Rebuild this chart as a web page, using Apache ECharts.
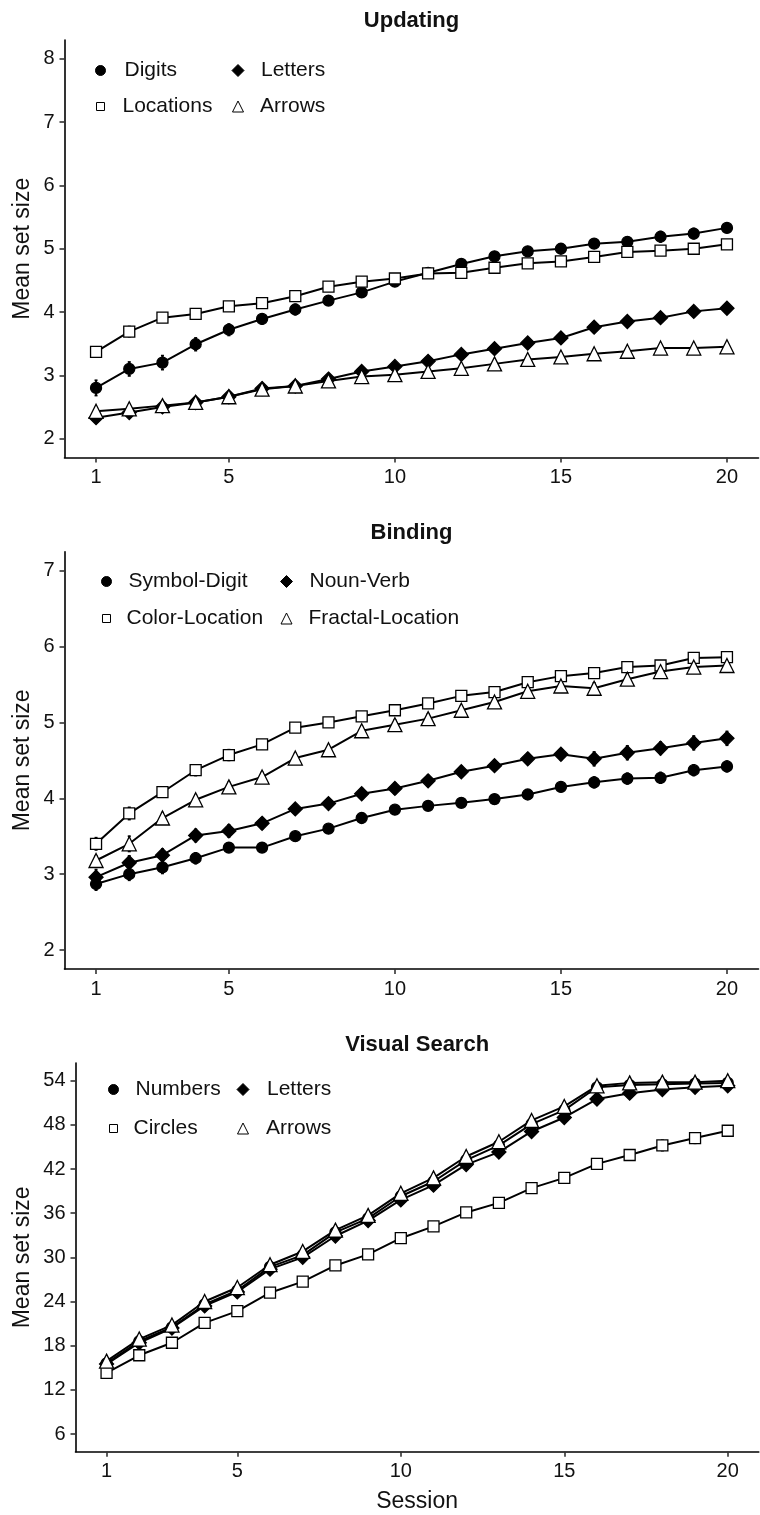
<!DOCTYPE html>
<html>
<head>
<meta charset="utf-8">
<script src="https://cdn.jsdelivr.net/npm/echarts@6/dist/echarts.min.js"></script>
<style>
  html, body { margin: 0; padding: 0; background: #fff; }
  #chart { width: 760px; height: 1515px; }
</style>
</head>
<body>
<div id="chart"></div>
<script>
// Training sessions on the x axis
const sessions = [1,2,3,4,5,6,7,8,9,10,11,12,13,14,15,16,17,18,19,20];
const xTicks = [1, 5, 10, 15, 20];

// Updating task: mean set size per session, with standard errors
const updDigits    = [2.80,3.10,3.20,3.49,3.72,3.89,4.04,4.18,4.31,4.48,4.62,4.76,4.88,4.96,5.00,5.08,5.11,5.19,5.24,5.33];
const updLetters   = [2.33,2.41,2.50,2.57,2.66,2.79,2.83,2.94,3.06,3.14,3.22,3.33,3.42,3.51,3.59,3.76,3.85,3.91,4.01,4.06];
const updLocations = [3.37,3.69,3.91,3.97,4.09,4.14,4.25,4.40,4.48,4.53,4.61,4.62,4.70,4.77,4.80,4.87,4.95,4.97,5.00,5.07];
const updArrows    = [2.43,2.47,2.52,2.57,2.66,2.78,2.83,2.91,2.98,3.01,3.06,3.11,3.18,3.25,3.29,3.34,3.38,3.43,3.43,3.45];
const updDigitsSE    = [0.12,0.11,0.11,0.10,0.09,0.08,0.08,0.07,0.07,0.07,0.07,0.07,0.07,0.07,0.07,0.07,0.07,0.08,0.08,0.07];
const updLettersSE   = [0.07,0.07,0.06,0.06,0.06,0.06,0.06,0.06,0.06,0.06,0.06,0.06,0.06,0.06,0.06,0.08,0.08,0.08,0.08,0.06];
const updLocationsSE = [0.07,0.08,0.06,0.05,0.05,0.05,0.05,0.05,0.05,0.05,0.05,0.05,0.05,0.05,0.05,0.05,0.05,0.05,0.06,0.05];
const updArrowsSE    = [0.05,0.05,0.05,0.05,0.05,0.05,0.05,0.05,0.05,0.05,0.05,0.05,0.05,0.05,0.05,0.05,0.05,0.05,0.05,0.05];
const updYTicks = [2, 3, 4, 5, 6, 7, 8];

// Binding task
const bindSymbolDigit = [2.87,3.00,3.09,3.21,3.35,3.35,3.50,3.60,3.74,3.85,3.90,3.94,3.99,4.05,4.15,4.21,4.26,4.27,4.37,4.42];
const bindNounVerb    = [2.96,3.15,3.25,3.51,3.57,3.67,3.86,3.93,4.06,4.13,4.23,4.35,4.43,4.52,4.58,4.52,4.60,4.66,4.73,4.79];
const bindColorLoc    = [3.40,3.80,4.08,4.37,4.57,4.71,4.93,5.00,5.08,5.16,5.25,5.35,5.40,5.53,5.61,5.65,5.73,5.75,5.85,5.86];
const bindFractalLoc  = [3.18,3.40,3.74,3.98,4.15,4.28,4.53,4.64,4.89,4.97,5.05,5.16,5.27,5.41,5.48,5.45,5.57,5.67,5.73,5.75];
const bindSymbolDigitSE = [0.08,0.08,0.08,0.07,0.06,0.06,0.06,0.05,0.06,0.05,0.05,0.05,0.05,0.05,0.06,0.07,0.07,0.07,0.07,0.07];
const bindNounVerbSE    = [0.10,0.09,0.08,0.08,0.08,0.07,0.06,0.06,0.07,0.07,0.07,0.07,0.07,0.07,0.07,0.09,0.09,0.08,0.09,0.09];
const bindColorLocSE    = [0.08,0.08,0.06,0.07,0.07,0.06,0.05,0.04,0.05,0.04,0.05,0.05,0.04,0.05,0.05,0.06,0.05,0.05,0.06,0.05];
const bindFractalLocSE  = [0.06,0.10,0.07,0.06,0.06,0.06,0.06,0.06,0.06,0.06,0.06,0.06,0.06,0.06,0.06,0.07,0.07,0.06,0.06,0.06];
const bindYTicks = [2, 3, 4, 5, 6, 7];

// Visual search task
const vsNumbers = [15.6,18.6,20.5,23.6,25.5,28.7,30.3,33.4,35.3,38.3,40.3,43.2,45.2,48.1,50.0,53.1,53.4,53.5,53.6,53.7];
const vsLetters = [15.5,18.4,20.4,23.4,25.3,28.4,30.0,32.9,35.0,37.8,39.8,42.6,44.3,47.1,49.0,51.5,52.3,52.8,53.1,53.3];
const vsCircles = [14.3,16.7,18.4,21.1,22.7,25.2,26.7,28.9,30.4,32.6,34.2,36.1,37.4,39.4,40.8,42.7,43.9,45.2,46.2,47.2];
const vsArrows  = [15.9,18.9,20.8,24.0,25.9,29.0,30.8,33.7,35.7,38.7,40.8,43.7,45.7,48.6,50.5,53.3,53.7,53.8,53.8,54.0];
const vsNumbersSE = [0.5,0.5,0.5,0.5,0.5,0.5,0.5,0.5,0.5,0.5,0.5,0.5,0.5,0.5,0.5,0.4,0.4,0.3,0.3,0.3];
const vsLettersSE = [0.5,0.5,0.5,0.5,0.5,0.5,0.5,0.5,0.5,0.5,0.5,0.5,0.5,0.5,0.5,0.5,0.5,0.4,0.4,0.4];
const vsCirclesSE = [0.6,0.5,0.5,0.5,0.6,0.5,0.5,0.5,0.5,0.5,0.5,0.5,0.5,0.5,0.5,0.6,0.6,0.7,0.7,0.6];
const vsArrowsSE  = [0.4,0.4,0.4,0.4,0.4,0.4,0.4,0.4,0.4,0.4,0.4,0.4,0.4,0.4,0.4,0.4,0.3,0.3,0.3,0.3];
const vsYTicks = [6, 12, 18, 24, 30, 36, 42, 48, 54];

const FONT = '"Liberation Sans", Arial, sans-serif';
const TXT = '#111';

const panels = [
  {
    title: 'Updating', titleTop: 10,
    grid: { left: 64.5, top: 40, width: 694, height: 417.5 },
    yMin: 1.7, yMax: 8.3, yTicks: updYTicks, nameGap: 30, xName: '',
    legendRows: [70, 106], legendCols: [95, 232.5], pads: [14, 11],
    series: [
      { name: 'Digits',    data: updDigits,    se: updDigitsSE,    symbol: 'circle',   size: 11, fill: '#000' },
      { name: 'Letters',   data: updLetters,   se: updLettersSE,   symbol: 'diamond',  size: 14, fill: '#000' },
      { name: 'Locations', data: updLocations, se: updLocationsSE, symbol: 'rect',     size: 11, fill: '#fff' },
      { name: 'Arrows',    data: updArrows,    se: updArrowsSE,    symbol: 'triangle', size: 14, fill: '#fff' }
    ]
  },
  {
    title: 'Binding', titleTop: 522,
    grid: { left: 64.5, top: 551.7, width: 694, height: 417.3 },
    yMin: 1.75, yMax: 7.25, yTicks: bindYTicks, nameGap: 30, xName: '',
    legendRows: [581, 618], legendCols: [101, 281], pads: [12, 11],
    series: [
      { name: 'Symbol-Digit',     data: bindSymbolDigit, se: bindSymbolDigitSE, symbol: 'circle',   size: 11, fill: '#000' },
      { name: 'Noun-Verb',        data: bindNounVerb,    se: bindNounVerbSE,    symbol: 'diamond',  size: 14, fill: '#000' },
      { name: 'Color-Location',   data: bindColorLoc,    se: bindColorLocSE,    symbol: 'rect',     size: 11, fill: '#fff' },
      { name: 'Fractal-Location', data: bindFractalLoc,  se: bindFractalLocSE,  symbol: 'triangle', size: 14, fill: '#fff' }
    ]
  },
  {
    title: 'Visual Search', titleTop: 1034,
    grid: { left: 75.5, top: 1063, width: 683.3, height: 388.7 },
    yMin: 3.6, yMax: 56.4, yTicks: vsYTicks, nameGap: 41, xName: 'Session',
    legendRows: [1089, 1128], legendCols: [108, 237.5], pads: [12, 12],
    series: [
      { name: 'Numbers', data: vsNumbers, se: vsNumbersSE, symbol: 'circle',   size: 11, fill: '#000' },
      { name: 'Letters', data: vsLetters, se: vsLettersSE, symbol: 'diamond',  size: 14, fill: '#000' },
      { name: 'Circles', data: vsCircles, se: vsCirclesSE, symbol: 'rect',     size: 11, fill: '#fff' },
      { name: 'Arrows',  data: vsArrows,  se: vsArrowsSE,  symbol: 'triangle', size: 14, fill: '#fff' }
    ]
  }
];

// Vertical error bar with small caps
function renderErrorBar(params, api) {
  const x = api.value(0);
  const lo = api.coord([x, api.value(1)]);
  const hi = api.coord([x, api.value(2)]);
  const cap = 1.5;
  const style = { stroke: '#000', lineWidth: 1.8 };
  return {
    type: 'group',
    children: [
      { type: 'line', shape: { x1: lo[0], y1: lo[1], x2: hi[0], y2: hi[1] }, style },
      { type: 'line', shape: { x1: lo[0] - cap, y1: lo[1], x2: lo[0] + cap, y2: lo[1] }, style },
      { type: 'line', shape: { x1: hi[0] - cap, y1: hi[1], x2: hi[0] + cap, y2: hi[1] }, style }
    ]
  };
}

const option = {
  backgroundColor: '#fff',
  animation: false,
  textStyle: { fontFamily: FONT },
  title: [], grid: [], xAxis: [], yAxis: [], legend: [], series: []
};

panels.forEach((p, pi) => {
  option.title.push({
    text: p.title,
    left: p.grid.left + p.grid.width / 2,
    textAlign: 'center',
    top: p.titleTop,
    padding: 0,
    textStyle: { fontFamily: FONT, fontWeight: 'bold', fontSize: 22, color: TXT }
  });
  option.grid.push(Object.assign({ containLabel: false }, p.grid));
  option.xAxis.push({
    type: 'value', gridIndex: pi, min: 0.05, max: 20.95,
    name: p.xName, nameLocation: 'middle', nameGap: 38,
    nameTextStyle: { fontFamily: FONT, fontSize: 23, color: TXT },
    splitLine: { show: false },
    axisLine: { show: true, onZero: false, lineStyle: { color: '#000', width: 1.6 } },
    axisTick: { show: true, length: 5, customValues: xTicks, lineStyle: { color: '#333', width: 1.6 } },
    axisLabel: { customValues: xTicks, margin: 10, fontFamily: FONT, fontSize: 20, color: TXT }
  });
  option.yAxis.push({
    type: 'value', gridIndex: pi, min: p.yMin, max: p.yMax,
    name: 'Mean set size', nameLocation: 'middle', nameGap: p.nameGap, nameRotate: 90,
    nameMoveOverlap: false,
    nameTextStyle: { fontFamily: FONT, fontSize: 23, color: TXT },
    splitLine: { show: false },
    axisLine: { show: true, onZero: false, lineStyle: { color: '#000', width: 1.6 } },
    axisTick: { show: true, length: 5, customValues: p.yTicks, lineStyle: { color: '#333', width: 1.6 } },
    axisLabel: { customValues: p.yTicks, margin: 10, fontFamily: FONT, fontSize: 20, color: TXT }
  });

  p.series.forEach((s, si) => {
    const seriesName = p.title + ' ' + s.name;
    // error bars underneath the markers
    option.series.push({
      type: 'custom', xAxisIndex: pi, yAxisIndex: pi, z: 1, silent: true,
      renderItem: renderErrorBar,
      encode: { x: 0, y: [1, 2] },
      data: sessions.map((x, i) => [x, s.data[i] - s.se[i], s.data[i] + s.se[i]])
    });
    option.series.push({
      type: 'line', name: seriesName, xAxisIndex: pi, yAxisIndex: pi, z: 2 + si,
      data: sessions.map((x, i) => [x, s.data[i]]),
      symbol: s.symbol, symbolSize: s.size, showSymbol: true,
      lineStyle: { color: '#000', width: 2 },
      itemStyle: { color: s.fill, borderColor: '#000', borderWidth: 1.3 },
      emphasis: { disabled: true }
    });
    const row = Math.floor(si / 2), col = si % 2;
    const iconSize = s.symbol === 'circle' ? 10 : (s.symbol === 'diamond' ? 12 : (s.symbol === 'rect' ? 8 : 11));
    option.legend.push({
      data: [seriesName],
      formatter: () => s.name,
      left: p.legendCols[col] + (10 - iconSize) / 2, top: p.legendRows[row] - 10,
      orient: 'horizontal', padding: 0,
      icon: s.symbol,
      itemWidth: iconSize, itemHeight: iconSize,
      itemStyle: { color: s.fill, borderColor: '#000', borderWidth: 1 },
      textStyle: { fontFamily: FONT, fontSize: 21, color: TXT, lineHeight: 20,
                   padding: [0, 0, 0, p.pads[col] - (10 - iconSize) / 2] },
      selectedMode: false
    });
  });
});

const chart = echarts.init(document.getElementById('chart'), null, { renderer: 'canvas' });
chart.setOption(option);
</script>
</body>
</html>
